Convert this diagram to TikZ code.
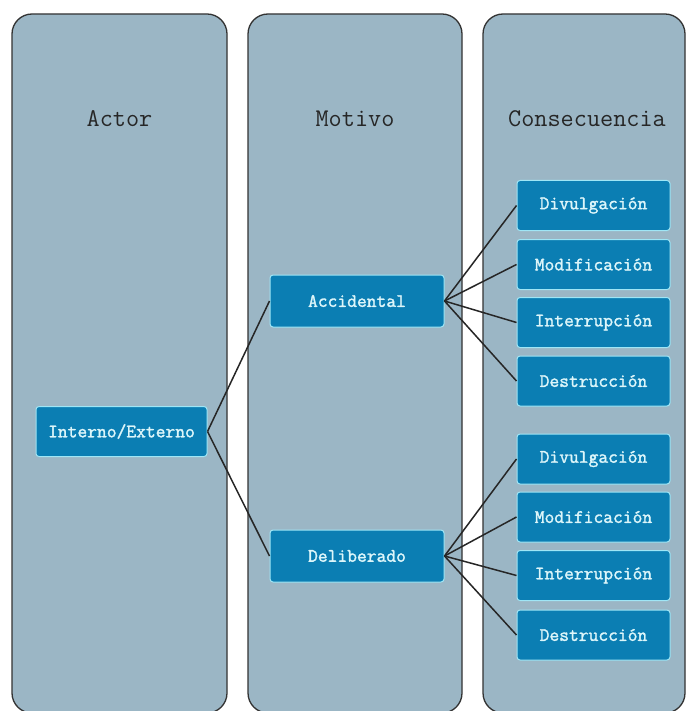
\documentclass[tikz,border=0pt]{standalone}
\usepackage{fontspec}
\newfontfamily\boxfont{Latin Modern Mono}[FakeBold=1.6]
\begin{document}
\begin{tikzpicture}[x=1pt,y=-1pt,
  column/.style={draw=black!80,line width=1.3pt,fill=colfill,rounded corners=20pt},
  collabel/.style={font=\ttfamily\fontsize{25.5}{28}\selectfont,text=black!85},
  itembox/.style={draw=boxborder,line width=1pt,fill=boxfill,rounded corners=3pt,
    text=boxtext,font=\boxfont\fontsize{19}{21}\selectfont,
    minimum height=50pt,inner sep=0pt},
  link/.style={draw=black!85,line width=1.5pt}]
\definecolor{colfill}{HTML}{9BB6C5}
\definecolor{boxfill}{HTML}{0B7EB3}
\definecolor{boxborder}{HTML}{9FE6F6}
\definecolor{boxtext}{HTML}{DDF6FA}
\useasboundingbox[fill=white] (0,0) rectangle (686,711);
\path[column] (12,14) rectangle (227,713);
\path[column] (248,14) rectangle (462,713);
\path[column] (483,14) rectangle (685,713);
\node[collabel] (lactor) at (119.5,119) {Actor};
\node[collabel] (lmotivo) at (355,119) {Motivo};
\node[collabel] (lcons) at (587,119) {Consecuencia};
\node[itembox,minimum width=171pt] (ie) at (121.5,431.5) {Interno/Externo};
\node[itembox,minimum width=174pt,minimum height=52pt] (acc) at (357,301) {Accidental};
\node[itembox,minimum width=174pt,minimum height=52pt] (del) at (357,556) {Deliberado};
\foreach \n/\y/\t in {a1/205.5/Divulgación,a2/264.5/Modificación,a3/322.5/Interrupción,a4/381/Destrucción,
                     b1/459/Divulgación,b2/517/Modificación,b3/575.5/Interrupción,b4/635/Destrucción}{
  \node[itembox,minimum width=153pt] (\n) at (593.5,\y) {\t};
}
\draw[link] (ie.east) -- (acc.west);
\draw[link] (ie.east) -- (del.west);
\foreach \n in {a1,a2,a3,a4}{\draw[link] (acc.east) -- (\n.west);}
\foreach \n in {b1,b2,b3,b4}{\draw[link] (del.east) -- (\n.west);}
\end{tikzpicture}
\end{document}
